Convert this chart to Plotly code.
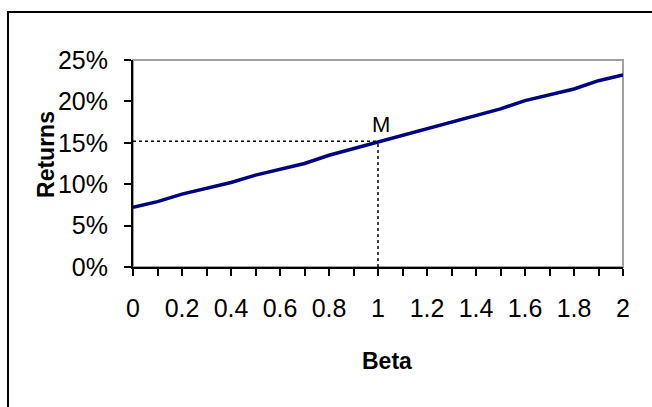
import plotly.graph_objects as go

# Data
beta = [0.0, 0.1, 0.2, 0.3, 0.4, 0.5, 0.6, 0.7, 0.8, 0.9, 1.0,
        1.1, 1.2, 1.3, 1.4, 1.5, 1.6, 1.7, 1.8, 1.9, 2.0]
returns = [0.072, 0.079, 0.088, 0.095, 0.102, 0.111, 0.118, 0.125, 0.135, 0.143, 0.152,
           0.160, 0.167, 0.176, 0.184, 0.191, 0.201, 0.208, 0.215, 0.225, 0.232]
market_beta = 1.0
market_return = 0.152
x_tick_vals = [0, 0.2, 0.4, 0.6, 0.8, 1, 1.2, 1.4, 1.6, 1.8, 2]
x_tick_text = ["0", "0.2", "0.4", "0.6", "0.8", "1", "1.2", "1.4", "1.6", "1.8", "2"]
y_tick_vals = [0, 0.05, 0.10, 0.15, 0.20, 0.25]
y_tick_text = ["0%", "5%", "10%", "15%", "20%", "25%"]

FONT = "Arial, 'Liberation Sans', sans-serif"

fig = go.Figure()

# dotted guide lines to M
fig.add_trace(go.Scatter(x=[0, market_beta], y=[market_return, market_return], mode="lines",
                         line=dict(color="black", width=1.5, dash="dot"),
                         hoverinfo="skip", showlegend=False, cliponaxis=False))
fig.add_trace(go.Scatter(x=[market_beta, market_beta], y=[0, market_return], mode="lines",
                         line=dict(color="black", width=1.5, dash="dot"),
                         hoverinfo="skip", showlegend=False, cliponaxis=False))

# SML line
fig.add_trace(go.Scatter(x=beta, y=returns, mode="lines",
                         line=dict(color="#000080", width=3.5),
                         showlegend=False, cliponaxis=False))

fig.add_annotation(x=market_beta, y=market_return, xref="x", yref="y", text="M",
                   showarrow=False, xanchor="center", yanchor="bottom", xshift=3, yshift=2,
                   font=dict(family=FONT, size=22, color="black"))

# axis titles
fig.add_annotation(x=-0.1776, y=0.546, xref="paper", yref="paper", text="<b>Returns</b>",
                   showarrow=False, textangle=-90, xanchor="center", yanchor="middle",
                   font=dict(family=FONT, size=23, color="black"))
fig.add_annotation(x=0.5178, y=-0.454, xref="paper", yref="paper", text="<b>Beta</b>",
                   showarrow=False, xanchor="center", yanchor="middle",
                   font=dict(family=FONT, size=23, color="black"))

# plot area border (gray) and outer chart border
fig.add_shape(type="rect", xref="paper", yref="paper", x0=0, y0=0, x1=1, y1=1,
              line=dict(color="#a0a0a0", width=2), layer="below")
fig.add_shape(type="rect", xref="paper", yref="paper", x0=-0.2551, y0=-0.75, x1=1.12, y1=1.2319,
              line=dict(color="black", width=2), layer="below")

fig.update_layout(
    width=652, height=407,
    margin=dict(l=133, r=29, t=60, b=140),
    paper_bgcolor="white", plot_bgcolor="white",
    font=dict(family=FONT, size=22, color="black"),
    xaxis=dict(range=[0, 2], tickvals=x_tick_vals, ticktext=x_tick_text,
               showgrid=False, zeroline=False, showline=True, linecolor="black", linewidth=2,
               ticks="outside", ticklen=7, tickwidth=1.5, tickcolor="black",
               ticklabelstandoff=11,
               tickfont=dict(family=FONT, size=25, color="black"),
               minor=dict(dtick=0.1, tick0=0, ticks="outside", ticklen=7, tickwidth=1.5,
                          tickcolor="black", showgrid=False)),
    yaxis=dict(range=[0, 0.25], tickvals=y_tick_vals, ticktext=y_tick_text,
               showgrid=False, zeroline=False, showline=True, linecolor="black", linewidth=2,
               ticks="outside", ticklen=7, tickwidth=1.5, tickcolor="black",
               ticklabelstandoff=11,
               tickfont=dict(family=FONT, size=25, color="black")),
)

fig.write_html("out.html")
